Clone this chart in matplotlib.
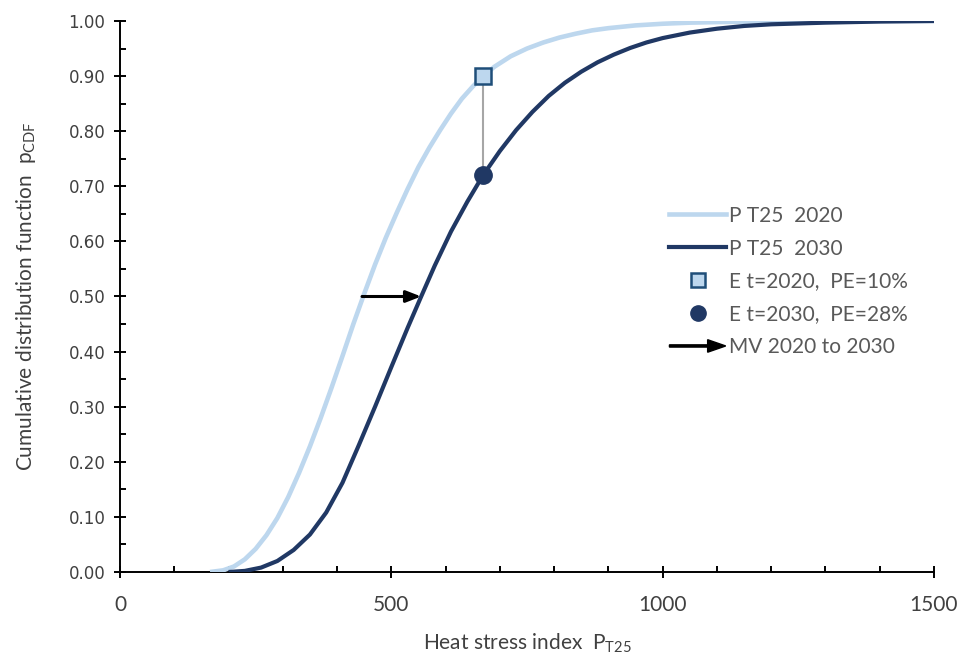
import matplotlib
matplotlib.use("Agg")
import matplotlib.pyplot as plt
import matplotlib.patches as mpatches
from matplotlib.legend_handler import HandlerPatch
from matplotlib.lines import Line2D
from matplotlib.ticker import MultipleLocator, FormatStrFormatter

# CDF of heat stress index
x_2020 = [166, 190, 210, 230, 250, 270, 290, 310, 330, 350, 370, 390, 410, 430, 450,
          470, 490, 510, 530, 550, 570, 590, 610, 630, 650, 669, 690, 720, 750, 780,
          810, 840, 870, 900, 950, 1000, 1050, 1100, 1200, 1300, 1500]
p_2020 = [0.0, 0.003, 0.010, 0.023, 0.042, 0.067, 0.098, 0.136, 0.180, 0.228, 0.280,
          0.335, 0.392, 0.450, 0.505, 0.558, 0.607, 0.652, 0.695, 0.735, 0.770, 0.802,
          0.832, 0.859, 0.881, 0.900, 0.917, 0.936, 0.950, 0.961, 0.970, 0.977, 0.983,
          0.987, 0.992, 0.995, 0.997, 0.998, 0.9995, 1.0, 1.0]

x_2030 = [200, 230, 260, 290, 320, 350, 380, 410, 440, 470, 500, 530, 555, 580, 610,
          640, 669, 700, 730, 760, 790, 820, 850, 880, 910, 940, 970, 1000, 1050, 1100,
          1150, 1200, 1300, 1400, 1500]
p_2030 = [0.0, 0.002, 0.008, 0.020, 0.040, 0.068, 0.108, 0.162, 0.230, 0.300, 0.372,
          0.443, 0.500, 0.556, 0.618, 0.672, 0.720, 0.764, 0.802, 0.835, 0.864, 0.888,
          0.908, 0.925, 0.939, 0.951, 0.961, 0.969, 0.979, 0.986, 0.991, 0.994, 0.997,
          0.999, 1.0]

# exceedance points and median shift
e_x = 669
e_2020 = 0.90
e_2030 = 0.72
mv_from = 446
mv_to = 555
mv_p = 0.50

light = "#bdd7ee"
dark = "#203864"
txt = "#595959"

plt.rcParams['font.family'] = ['Lato', 'DejaVu Sans']

fig = plt.figure(figsize=(9.62, 6.57), dpi=100)
ax = fig.add_axes([120 / 962, 1 - 572 / 657, 814 / 962, 551 / 657])

ax.plot(x_2020, p_2020, color=light, lw=3.3, solid_capstyle="butt", solid_joinstyle="round",
        zorder=2)
ax.plot(x_2030, p_2030, color=dark, lw=3.0, solid_capstyle="butt", solid_joinstyle="round",
        zorder=3)

ax.plot([e_x, e_x], [e_2030, e_2020], color="#a6a6a6", lw=1.5, zorder=3)
ax.plot(e_x, e_2020, "s", ms=11, mfc=light, mec="#1f4e79", mew=1.8, zorder=5)
ax.plot(e_x, e_2030, "o", ms=12.5, color=dark, zorder=5)

ax.annotate("", xy=(mv_to, mv_p), xytext=(mv_from, mv_p),
            arrowprops=dict(arrowstyle="-|>,head_length=0.9,head_width=0.35",
                            color="black", lw=2.2, shrinkA=0, shrinkB=0),
            zorder=6)

ax.set_xlim(0, 1500)
ax.set_ylim(0, 1.0)
ax.spines["top"].set_visible(False)
ax.spines["right"].set_visible(False)
for s in ("left", "bottom"):
    ax.spines[s].set_linewidth(1.4)
    ax.spines[s].set_zorder(1)

ax.xaxis.set_major_locator(MultipleLocator(500))
ax.xaxis.set_minor_locator(MultipleLocator(100))
ax.yaxis.set_major_locator(MultipleLocator(0.1))
ax.yaxis.set_minor_locator(MultipleLocator(0.05))
ax.yaxis.set_major_formatter(FormatStrFormatter("%.2f"))

ax.tick_params(which="major", direction="inout", length=9, width=1.4, colors="black")
ax.tick_params(which="minor", direction="in", length=4.5, width=1.4, colors="black")
ax.tick_params(axis="x", which="major", labelsize=15, labelcolor="#404040", pad=12)
ax.tick_params(axis="y", which="major", labelsize=12, labelcolor="#404040", pad=6)
for lab in ax.get_yticklabels():
    lab.set_family("DejaVu Sans")

ax.set_xlabel(r"Heat stress index  P$_{\mathregular{T25}}$", fontsize=15, color="#404040",
              labelpad=12)
ax.set_ylabel(r"Cumulative distribution function  p$_{\mathregular{CDF}}$", fontsize=15,
              color="#404040", labelpad=22)


def make_arrow(legend, orig_handle, xdescent, ydescent, width, height, fontsize):
    return mpatches.FancyArrow(0, height / 2, width, 0, width=1.6, length_includes_head=True,
                               head_width=9, head_length=13, color="black")


handles = [
    Line2D([], [], color=light, lw=3.3),
    Line2D([], [], color=dark, lw=3.0),
    Line2D([], [], marker="s", ls="none", ms=10, mfc=light, mec="#1f4e79", mew=1.8),
    Line2D([], [], marker="o", ls="none", ms=11, color=dark),
    mpatches.FancyArrow(0, 0, 1, 0, color="black"),
]
labels = ["P T25  2020", "P T25  2030", "E t=2020,  PE=10%", "E t=2030,  PE=28%",
          "MV 2020 to 2030"]

leg = ax.legend(handles, labels, loc="upper left", bbox_to_anchor=(0.675, 0.665),
                frameon=False, fontsize=15, handlelength=2.7, handletextpad=0.15,
                labelspacing=0.62, borderpad=0, borderaxespad=0,
                handler_map={mpatches.FancyArrow: HandlerPatch(patch_func=make_arrow)})
for t in leg.get_texts():
    t.set_color(txt)

fig.savefig("out.png", dpi=100)
